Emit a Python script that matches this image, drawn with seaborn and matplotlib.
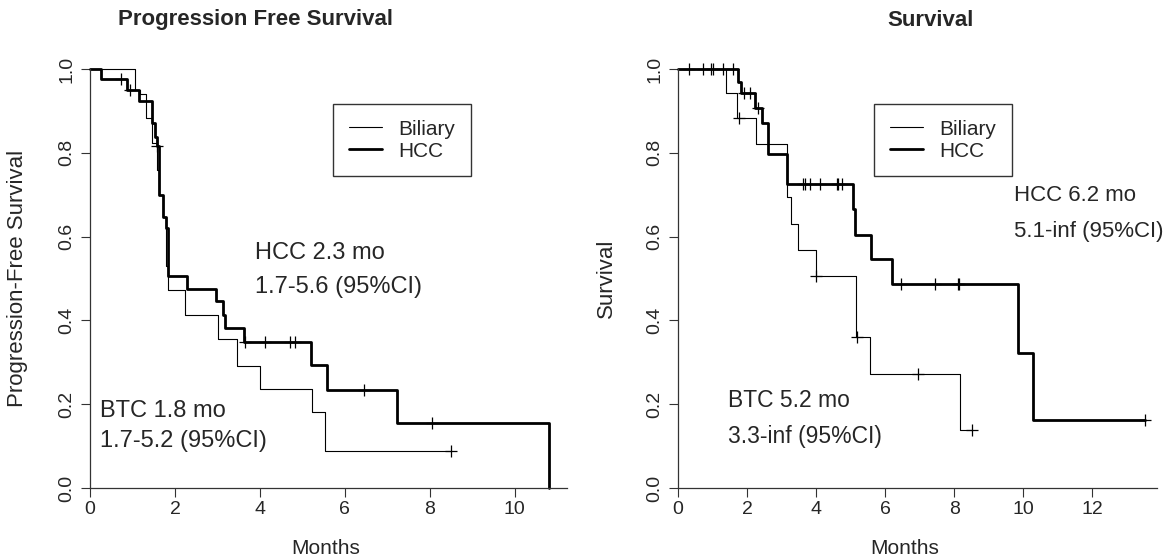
import numpy as np
import pandas as pd
import matplotlib
matplotlib.use("Agg")
import matplotlib.pyplot as plt
import seaborn as sns
from matplotlib.lines import Line2D

# Kaplan-Meier step data
# --- Progression free survival
hcc_pfs_t = [0, 0.27, 0.86, 1.16, 1.47, 1.53, 1.58, 1.62, 1.73, 1.79, 1.84, 2.29,
             2.96, 3.12, 3.19, 3.63, 5.20, 5.59, 7.23, 10.81]
hcc_pfs_s = [1.0, 0.975, 0.95, 0.924, 0.870, 0.838, 0.816, 0.70, 0.647, 0.62, 0.506,
             0.475, 0.447, 0.413, 0.383, 0.349, 0.293, 0.234, 0.156, 0.0]
hcc_pfs_cens = [0.73, 0.94, 1.58, 3.66, 4.12, 4.71, 4.82, 6.45, 8.04]

btc_pfs_t = [0, 1.06, 1.18, 1.32, 1.45, 1.57, 1.62, 1.73, 1.79, 1.84, 2.24, 3.02,
             3.47, 4.00, 5.22, 5.53, 8.51]
btc_pfs_s = [1.0, 0.95, 0.94, 0.882, 0.823, 0.76, 0.70, 0.647, 0.53, 0.472, 0.413,
             0.355, 0.29, 0.236, 0.181, 0.089, 0.089]
btc_pfs_cens = [8.51]

# --- Overall survival
hcc_os_t = [0, 1.73, 1.84, 2.23, 2.44, 2.62, 3.15, 5.06, 5.13, 5.58, 6.21, 9.84,
            10.28, 13.54]
hcc_os_s = [1.0, 0.97, 0.943, 0.906, 0.870, 0.797, 0.726, 0.666, 0.604, 0.546,
            0.486, 0.323, 0.162, 0.162]
hcc_os_cens = [0.32, 0.72, 0.96, 1.01, 1.31, 1.60, 1.91, 2.08, 2.33, 3.63, 3.67,
               3.83, 4.12, 4.60, 4.64, 4.76, 6.45, 7.46, 8.10, 8.14, 13.54]

btc_os_t = [0, 1.38, 1.70, 2.26, 3.17, 3.27, 3.49, 3.99, 5.17, 5.55, 8.17, 8.51]
btc_os_s = [1.0, 0.943, 0.882, 0.821, 0.695, 0.63, 0.568, 0.507, 0.361, 0.271,
            0.138, 0.138]
btc_os_cens = [1.78, 3.99, 5.20, 6.95, 8.51]

group_labels = ["Biliary", "HCC"]
y_ticks = [0.0, 0.2, 0.4, 0.6, 0.8, 1.0]

sns.set_style("ticks")
plt.rcParams['font.family'] = ['Liberation Sans', 'DejaVu Sans']

W, H = 1163, 560
fig = plt.figure(figsize=(W / 100, H / 100), dpi=100)


def step_at(t, s, when):
    idx = np.searchsorted(t, when, side='right') - 1
    return np.asarray(s)[idx]


def km_panel(ax, curves, xmax, xticks):
    for t, s, cens, lw in curves:
        df = pd.DataFrame({'t': t, 's': s})
        sns.lineplot(data=df, x='t', y='s', ax=ax, drawstyle='steps-post',
                     estimator=None, sort=False, color='black', linewidth=lw,
                     clip_on=False)
        cdf = pd.DataFrame({'t': cens, 's': step_at(t, s, cens)})
        sns.scatterplot(data=cdf, x='t', y='s', ax=ax, marker='+', s=70,
                        color='black', linewidth=0.9, clip_on=False, zorder=4)
    ax.set_xlim(0, xmax)
    ax.set_ylim(0, 1)
    ax.set_xticks(xticks)
    ax.set_yticks(y_ticks)
    ax.set_yticklabels([f"{v:.1f}" for v in y_ticks], rotation=90, va='center')
    ax.tick_params(axis='both', length=6.5, width=0.8, labelsize=14, color='#333333')
    ax.tick_params(axis='x', pad=3)
    ax.tick_params(axis='y', pad=4)
    for sp in ['top', 'right']:
        ax.spines[sp].set_visible(False)
    for sp in ['left', 'bottom']:
        ax.spines[sp].set_linewidth(0.9)
        ax.spines[sp].set_color('#333333')
    handles = [Line2D([], [], color='black', linewidth=0.8),
               Line2D([], [], color='black', linewidth=2.0)]
    return handles


def add_legend(ax, handles, x0, y0):
    ax.legend(handles, group_labels, loc='upper left', bbox_to_anchor=(x0 / W, 1 - y0 / H),
              bbox_transform=fig.transFigure, fontsize=15, frameon=True, fancybox=False,
              edgecolor='#333333', framealpha=1, handlelength=1.6, handletextpad=0.8,
              labelspacing=0.15, borderpad=0.75, borderaxespad=0)


# Left panel
ax1 = fig.add_axes([90 / W, 1 - 488 / H, 477 / W, 419 / H])
h = km_panel(ax1, [(btc_pfs_t, btc_pfs_s, btc_pfs_cens, 0.8),
                   (hcc_pfs_t, hcc_pfs_s, hcc_pfs_cens, 2.0)], 11.23,
             [0, 2, 4, 6, 8, 10])
ax1.set_xlabel("Months", fontsize=15)
ax1.set_ylabel("Progression-Free Survival", fontsize=16)
ax1.xaxis.set_label_coords(0.495, -0.122)
ax1.yaxis.set_label_coords(-0.13, 0.5)
add_legend(ax1, h, 333, 104)
ax1.text(3.88, 0.561, "HCC 2.3 mo", fontsize=17, va='center')
ax1.text(3.88, 0.480, "1.7-5.6 (95%CI)", fontsize=17, va='center')
ax1.text(0.235, 0.184, "BTC 1.8 mo", fontsize=17, va='center')
ax1.text(0.235, 0.112, "1.7-5.2 (95%CI)", fontsize=17, va='center')

# Right panel
ax2 = fig.add_axes([678 / W, 1 - 488 / H, 479 / W, 419 / H])
h = km_panel(ax2, [(btc_os_t, btc_os_s, btc_os_cens, 0.8),
                   (hcc_os_t, hcc_os_s, hcc_os_cens, 2.0)], 13.88,
             [0, 2, 4, 6, 8, 10, 12])
ax2.set_xlabel("Months", fontsize=15)
ax2.set_ylabel("Survival", fontsize=16)
ax2.xaxis.set_label_coords(0.474, -0.122)
ax2.yaxis.set_label_coords(-0.127, 0.5)
add_legend(ax2, h, 874, 104)
ax2.text(9.75, 0.697, "HCC 6.2 mo", fontsize=16, va='center')
ax2.text(9.75, 0.611, "5.1-inf (95%CI)", fontsize=16, va='center')
ax2.text(1.45, 0.210, "BTC 5.2 mo", fontsize=16.5, va='center')
ax2.text(1.45, 0.122, "3.3-inf (95%CI)", fontsize=16.5, va='center')

fig.text(255 / W, 1 - 20 / H, "Progression Free Survival", fontsize=16,
         fontweight='bold', ha='center', va='center')
fig.text(931 / W, 1 - 20 / H, "Survival", fontsize=16, fontweight='bold',
         ha='center', va='center')

fig.savefig("out.png", dpi=100)
